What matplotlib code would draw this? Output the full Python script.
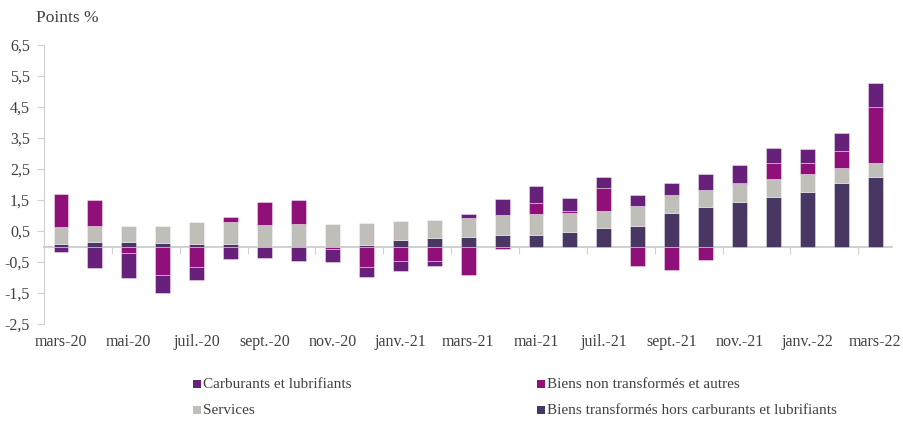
import numpy as np
import matplotlib
matplotlib.use("Agg")
import matplotlib.pyplot as plt
from matplotlib.patches import Rectangle
from matplotlib.transforms import blended_transform_factory

plt.rcParams['font.family'] = ['Liberation Serif', 'DejaVu Serif']

months = ["mars-20", "avr.-20", "mai-20", "juin-20", "juil.-20", "août-20",
          "sept.-20", "oct.-20", "nov.-20", "déc.-20", "janv.-21", "févr.-21",
          "mars-21", "avr.-21", "mai-21", "juin-21", "juil.-21", "août-21",
          "sept.-21", "oct.-21", "nov.-21", "déc.-21", "janv.-22", "févr.-22",
          "mars-22"]

biens_transformes = [0.08, 0.13, 0.13, 0.10, 0.08, 0.08, 0.00, 0.00, 0.00, 0.05,
                     0.21, 0.28, 0.31, 0.36, 0.37, 0.47, 0.59, 0.66, 1.09, 1.28,
                     1.45, 1.61, 1.75, 2.04, 2.25]
services = [0.56, 0.54, 0.54, 0.57, 0.70, 0.70, 0.69, 0.715, 0.715, 0.70,
            0.62, 0.575, 0.62, 0.66, 0.67, 0.62, 0.57, 0.65, 0.58, 0.55,
            0.56, 0.56, 0.60, 0.50, 0.45]
biens_non_transformes = [1.05, 0.83, -0.22, -0.93, -0.67, 0.16, 0.76, 0.785, -0.09, -0.67,
                         -0.47, -0.48, -0.92, -0.07, 0.36, 0.04, 0.74, -0.64, -0.75, -0.45,
                         0.03, 0.51, 0.33, 0.53, 1.79]
carburants = [-0.19, -0.70, -0.81, -0.56, -0.41, -0.39, -0.36, -0.47, -0.42, -0.32,
              -0.32, -0.14, 0.12, 0.50, 0.55, 0.42, 0.33, 0.35, 0.38, 0.51,
              0.59, 0.50, 0.45, 0.58, 0.77]

series = [
    ("Biens transformés hors carburants et lubrifiants", biens_transformes, "#483763"),
    ("Services", services, "#bfbeb9"),
    ("Biens non transformés et autres", biens_non_transformes, "#8e1078"),
    ("Carburants et lubrifiants", carburants, "#68217a"),
]

yticks = [6.5, 5.5, 4.5, 3.5, 2.5, 1.5, 0.5, -0.5, -1.5, -2.5]

fig = plt.figure(figsize=(9.04, 4.21), dpi=100)
ax = fig.add_axes([0.0487, 0.2304, 0.9383, 0.6627])

x = np.arange(len(months))
pos_base = np.zeros(len(months))
neg_base = np.zeros(len(months))
for name, vals, color in series:
    v = np.array(vals, dtype=float)
    bottom = np.where(v >= 0, pos_base, neg_base)
    ax.bar(x, v, bottom=bottom, width=0.44, color=color,
           edgecolor=(1, 1, 1, 0.4), linewidth=0.7, label=name, zorder=3)
    pos_base = pos_base + np.where(v > 0, v, 0)
    neg_base = neg_base + np.where(v < 0, v, 0)

ax.set_xlim(-0.5, len(months) - 0.5)
ax.set_ylim(-2.5, 6.5)
ax.set_yticks(yticks)
ax.set_yticklabels([f"{t:.1f}".replace(".", ",") for t in yticks],
                   fontsize=11.5, color="#404040")

for s in ["top", "right"]:
    ax.spines[s].set_visible(False)
ax.spines["left"].set_color("#d0d0d0")
ax.spines["bottom"].set_position(("data", 0))
ax.spines["bottom"].set_color("#c8c8c8")
ax.spines["bottom"].set_linewidth(1.2)
ax.tick_params(axis="y", length=5, color="#d0d0d0", pad=5)
ax.set_xticks(np.arange(1.5, len(months) - 1, 2))
ax.set_xticklabels([])
ax.tick_params(axis="x", length=5, color="#d0d0d0", direction="out")

trans = blended_transform_factory(ax.transData, ax.transAxes)
for i in range(0, len(months), 2):
    ax.text(i, -0.035, months[i], transform=trans, ha="center", va="top",
            fontsize=11.5, color="#404040")

fig.text(0.04, 0.958, "Points %", fontsize=12.5, color="#404040", va="center")

# legend laid out in two columns below the plot
legend_items = [
    ("Carburants et lubrifiants", "#68217a", 193, 384),
    ("Biens non transformés et autres", "#8e1078", 537, 384),
    ("Services", "#bfbeb9", 193, 410),
    ("Biens transformés hors carburants et lubrifiants", "#483763", 537, 410),
]
W, H = 904, 421
for label, color, px, py in legend_items:
    fig.patches.append(Rectangle((px / W, (H - py - 4) / H), 8 / W, 8 / H,
                                 transform=fig.transFigure, facecolor=color,
                                 edgecolor="none"))
    fig.text((px + 10) / W, (H - py) / H, label, fontsize=11,
             color="#404040", va="center")

fig.savefig("out.png", dpi=100)
